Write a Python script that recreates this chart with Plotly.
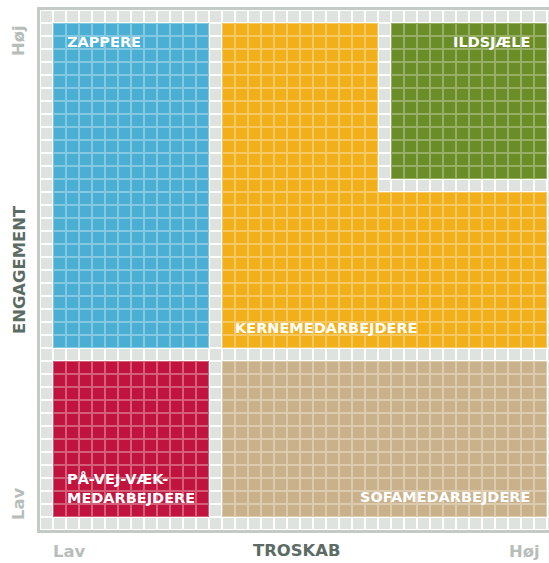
import numpy as np
import plotly.graph_objects as go

# ---- data -------------------------------------------------------------
grid_cols = 40          # number of cell columns (incl. grey margin cells)
grid_rows = 40          # number of cell rows

region_labels = ["", "ZAPPERE", "KERNEMEDARBEJDERE", "ILDSJÆLE",
                 "PÅ-VEJ-VÆK-<br>MEDARBEJDERE", "SOFAMEDARBEJDERE"]
region_colors = ["#dfe3e0", "#4bafd3", "#f1b019", "#6b8d27", "#c0143e", "#c9b18c"]
region_tints = ["#ffffff", "#84c8e2", "#f6c964", "#96ae66", "#d35f78", "#dccbaf"]

# rectangular blocks of cells belonging to each segment
block_region = [1, 2, 2, 3, 4, 5]
block_col_from = [1, 14, 26, 27, 1, 14]
block_col_to = [12, 25, 38, 38, 12, 38]
block_row_from = [1, 1, 14, 1, 27, 27]
block_row_to = [25, 25, 25, 12, 38, 38]

x_axis_title = "TROSKAB"
y_axis_title = "ENGAGEMENT"
x_tick_labels = ["Lav", "Høj"]
y_tick_labels = ["Lav", "Høj"]

# ---- build cell matrix ------------------------------------------------
z = np.zeros((grid_rows, grid_cols), dtype=int)
for r, c0, c1, r0, r1 in zip(block_region, block_col_from, block_col_to,
                             block_row_from, block_row_to):
    z[r0:r1 + 1, c0:c1 + 1] = r

n = len(region_colors)


def discrete_scale(colors):
    scale = []
    for k, col in enumerate(colors):
        scale.append([k / n, col])
        scale.append([(k + 1) / n, col])
    return scale


xs = list(range(grid_cols))
ys = list(range(grid_rows))

fig = go.Figure()
fig.add_trace(go.Heatmap(z=z, x=xs, y=ys, zmin=-0.5, zmax=n - 0.5,
                         colorscale=discrete_scale(region_tints),
                         showscale=False, hoverinfo="skip"))
fig.add_trace(go.Heatmap(z=z, x=xs, y=ys, zmin=-0.5, zmax=n - 0.5,
                         colorscale=discrete_scale(region_colors),
                         xgap=2, ygap=2,
                         showscale=False, hoverinfo="skip"))

W, H = 549, 563
cell = 13
ml, mt = 40, 10
plot_h = grid_rows * cell
mb = H - mt - plot_h
plot_w = W - ml

frame = "#c4cac5"
fig.update_xaxes(range=[-0.5, -0.5 + plot_w / cell], showgrid=False,
                 zeroline=False, showticklabels=False, ticks="",
                 showline=True, linecolor=frame, linewidth=3, mirror=True)
fig.update_yaxes(range=[grid_rows - 0.5, -0.5], showgrid=False,
                 zeroline=False, showticklabels=False, ticks="",
                 showline=True, linecolor=frame, linewidth=3, mirror=False)

font_fam = "DejaVu Sans"
label_font = dict(family=font_fam, size=14.5, color="white", weight="bold")

# segment labels (data coordinates, cell units)
seg_pos = {
    1: (1.45, 1.96, "left"),
    2: (14.35, 23.96, "left"),
    3: (37.35, 1.96, "right"),
    4: (1.42, 36.27, "left"),
    5: (37.35, 36.96, "right"),
}
for k, (x, y, anc) in seg_pos.items():
    fig.add_annotation(x=x, y=y, xref="x", yref="y", text=region_labels[k],
                       showarrow=False, xanchor=anc, yanchor="middle",
                       align="left", font=label_font)


def px_x(p):
    return (p - ml) / plot_w


def px_y(p):
    return (mt + plot_h - p) / plot_h


light = "#b7bdb9"
dark = "#5c6b63"
axis_font = dict(family=font_fam, size=16.4, weight="bold")

outer = [
    (69, 551, x_tick_labels[0], light, 0),
    (524, 551, x_tick_labels[1], light, 0),
    (296, 550, x_axis_title, dark, 0),
    (18, 504, y_tick_labels[0], light, -90),
    (18, 41, y_tick_labels[1], light, -90),
    (19, 270, y_axis_title, dark, -90),
]
for px, py, txt, col, ang in outer:
    fig.add_annotation(x=px_x(px), y=px_y(py), xref="paper", yref="paper",
                       text=txt, showarrow=False, textangle=ang,
                       xanchor="center", yanchor="middle",
                       font=dict(axis_font, color=col))

fig.update_layout(width=W, height=H,
                  margin=dict(l=ml, r=0, t=mt, b=mb, pad=0),
                  plot_bgcolor="white", paper_bgcolor="white",
                  showlegend=False)

fig.write_html("out.html", config={"displayModeBar": False},
               post_script="document.body.style.margin='0';"
                           "document.documentElement.style.overflow='hidden';")
